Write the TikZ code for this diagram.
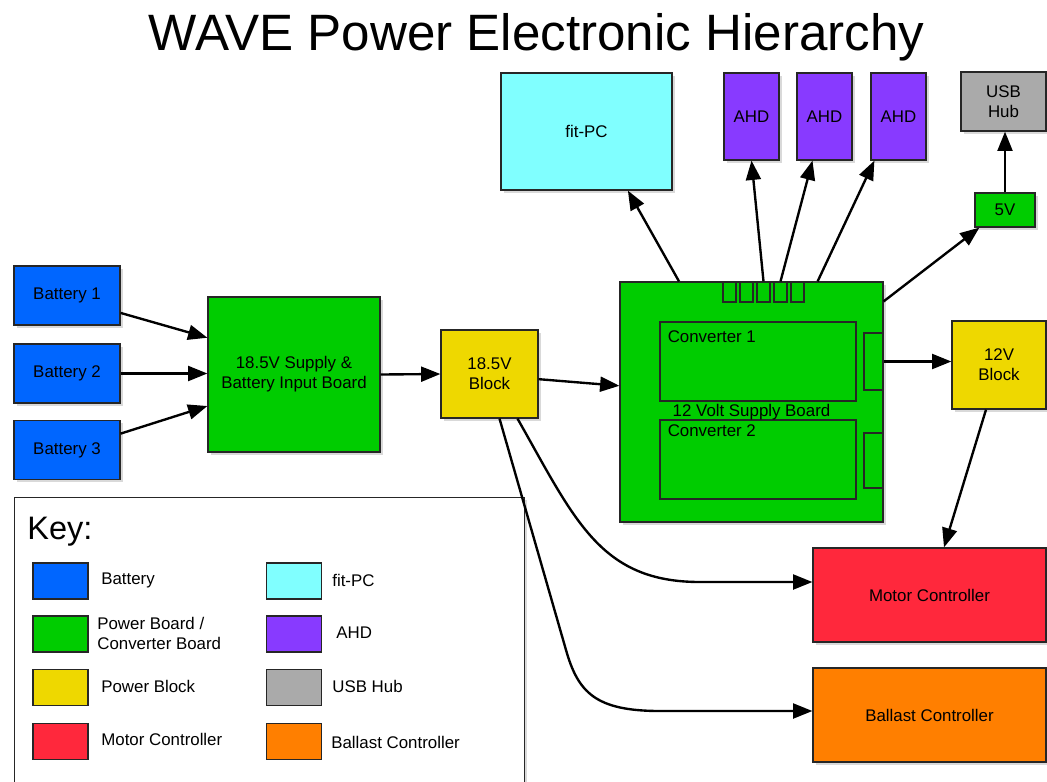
\documentclass[tikz,border=0pt]{standalone}
\usepackage{fontspec}
\setmainfont{Liberation Sans}
\usetikzlibrary{arrows.meta,calc,shadows}
\definecolor{battblue}{RGB}{0,102,255}
\definecolor{boardgreen}{RGB}{0,204,0}
\definecolor{blockyellow}{RGB}{238,216,0}
\definecolor{motorred}{RGB}{255,40,60}
\definecolor{ballastorange}{RGB}{255,127,0}
\definecolor{pccyan}{RGB}{128,255,255}
\definecolor{ahdpurple}{RGB}{136,58,255}
\definecolor{hubgrey}{RGB}{170,170,170}
\begin{document}
\begin{tikzpicture}[x=0.02cm,y=-0.02cm,font=\fontsize{9.6}{11.4}\selectfont,
  unit/.style={draw=black!85,line width=0.7pt,inner sep=0pt,align=center,
    drop shadow={shadow xshift=1.5pt,shadow yshift=-1.5pt,opacity=0.3}},
  part/.style={draw=black!85,line width=0.7pt,inner sep=0pt},
  swatch/.style={part,minimum width=1.1cm,minimum height=0.72cm},
  wire/.style={line width=1.35pt,-{Triangle[length=11pt,width=8.5pt]}},
  lbl/.style={anchor=west,inner sep=0pt,align=left}]
  \useasboundingbox (0,0) rectangle (1047,781);
  \node (title) at (536.5,37) {\fontsize{29.1}{34}\selectfont WAVE Power Electronic Hierarchy};

  % key
  \node[unit,fill=white,anchor=north west,minimum width=10.2cm,minimum height=6cm] (key) at (14,497) {};
  \node[anchor=base west,inner sep=0pt] (keytitle) at (27,539) {\fontsize{18.5}{22}\selectfont Key:};
  \node[swatch,fill=battblue] (k1) at (60.5,581) {};
  \node[swatch,fill=boardgreen] (k2) at (60.5,634) {};
  \node[swatch,fill=blockyellow] (k3) at (60.5,687.5) {};
  \node[swatch,fill=motorred] (k4) at (60.5,741.5) {};
  \node[swatch,fill=pccyan] (k5) at (294,581) {};
  \node[swatch,fill=ahdpurple] (k6) at (294,634) {};
  \node[swatch,fill=hubgrey] (k7) at (294,687.5) {};
  \node[swatch,fill=ballastorange] (k8) at (294,741.5) {};
  \node[lbl] at (101,580) {Battery};
  \node[lbl] at (97,633) {Power Board /\\Converter Board};
  \node[lbl] at (101,686) {Power Block};
  \node[lbl] at (101,739) {Motor Controller};
  \node[lbl] at (332,580) {fit-PC};
  \node[lbl] at (336,633) {AHD};
  \node[lbl] at (332,686) {USB Hub};
  \node[lbl] at (331,742) {Ballast Controller};

  % units
  \node[unit,fill=battblue,minimum width=2.12cm,minimum height=1.18cm] (bat1) at (67,295.5) {Battery 1};
  \node[unit,fill=battblue,minimum width=2.12cm,minimum height=1.18cm] (bat2) at (67,373.5) {Battery 2};
  \node[unit,fill=battblue,minimum width=2.12cm,minimum height=1.18cm] (bat3) at (67,450) {Battery 3};
  \node[unit,fill=boardgreen,minimum width=3.44cm,minimum height=3.1cm] (supply) at (294,374.5) {18.5V Supply \&\\Battery Input Board};
  \node[unit,fill=blockyellow,minimum width=1.94cm,minimum height=1.76cm] (blk185) at (489.5,374) {18.5V\\Block};
  \node[unit,fill=pccyan,minimum width=3.42cm,minimum height=2.34cm] (fitpc) at (586.5,131.5) {fit-PC};
  \node[unit,fill=ahdpurple,minimum width=1.1cm,minimum height=1.74cm] (ahd1) at (751.5,116.5) {AHD};
  \node[unit,fill=ahdpurple,minimum width=1.1cm,minimum height=1.74cm] (ahd2) at (824.5,116.5) {AHD};
  \node[unit,fill=ahdpurple,minimum width=1.1cm,minimum height=1.74cm] (ahd3) at (898.5,116.5) {AHD};
  \node[unit,fill=hubgrey,minimum width=1.7cm,minimum height=1.18cm] (usb) at (1003.5,101.5) {USB\\Hub};
  \node[unit,fill=boardgreen,minimum width=1.2cm,minimum height=0.68cm] (fivev) at (1005,210) {5V};
  \node[unit,fill=blockyellow,minimum width=1.88cm,minimum height=1.76cm] (blk12) at (999,365) {12V\\Block};
  \node[unit,fill=motorred,minimum width=4.66cm,minimum height=1.88cm] (motor) at (929.5,595) {Motor Controller};
  \node[unit,fill=ballastorange,minimum width=4.66cm,minimum height=1.88cm] (ballast) at (929.5,715) {Ballast Controller};

  % 12 volt supply board
  \node[unit,fill=boardgreen,minimum width=5.26cm,minimum height=4.8cm] (board12) at (751.5,402) {};
  \node[part,minimum width=3.92cm,minimum height=1.58cm] (conv1) at (758,361.5) {};
  \node[part,minimum width=3.92cm,minimum height=1.58cm] (conv2) at (758,459.5) {};
  \node[part,minimum width=0.38cm,minimum height=1.14cm] (side1) at (873.5,361.5) {};
  \node[part,minimum width=0.38cm,minimum height=1.1cm] (side2) at (873.5,460.5) {};
  \foreach \i in {1,...,5}
    \node[part,minimum width=0.26cm,minimum height=0.4cm] (p\i) at ({712.5+17*\i},292) {};
  \node[anchor=north west,inner sep=0pt] (conv1lbl) at ($(conv1.north west)+(8,9)$) {Converter 1};
  \node[anchor=north west,inner sep=0pt] (conv2lbl) at ($(conv2.north west)+(8,5)$) {Converter 2};
  \node[anchor=base,inner sep=0pt] (boardlbl) at (751.5,416.5) {12 Volt Supply Board};

  % wires
  \draw[wire] (bat1.-18) -- (supply.157);
  \draw[wire] (bat2.east) -- (bat2.east -| supply.west);
  \draw[wire] (bat3.17) -- (supply.200);
  \draw[wire] (supply.east) -- (blk185.west);
  \draw[wire] (blk185.-6) -- (board12.173);
  \draw[wire] (board12.121) -- (fitpc.-55);
  \draw[wire] (p3.north) -- (ahd1.south);
  \draw[wire] (p4.north) -- ($(ahd2.south)+(-12,0)$);
  \draw[wire] ($(p5.north east)+(13,0)$) -- ($(ahd3.south west)+(4,0)$);
  \draw[wire] ($(board12.north east)+(0,20)$) -- ($(fivev.south west)+(5,0)$);
  \draw[wire] (fivev.north) -- (fivev.north |- usb.south);
  \draw[wire] (side1.east) -- (side1.east -| blk12.west);
  \draw[wire] ($(blk12.south)+(-13,0)$) -- ($(motor.north)+(14.5,0)$);
  \draw[wire] ($(blk185.south)+(28,0)$) .. controls (575,520) and (600,582) .. (700,582) -- ($(motor.west)+(0,-13)$);
  \draw[wire] ($(blk185.south)+(10,0)$) -- (566,650) .. controls (578,692) and (595,711) .. (660,711) -- ($(ballast.west)+(0,-4)$);
\end{tikzpicture}
\end{document}
